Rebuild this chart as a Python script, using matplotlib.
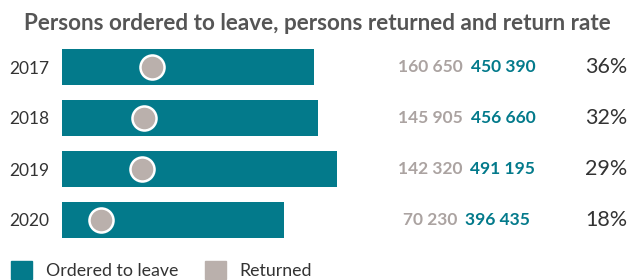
import matplotlib
matplotlib.use("Agg")
import matplotlib.pyplot as plt
from matplotlib.patches import Patch
from matplotlib.offsetbox import TextArea, HPacker, AnnotationBbox

plt.rcParams['font.family'] = ['Lato', 'DejaVu Sans']

years = ['2017', '2018', '2019', '2020']
ordered = [450390, 456660, 491195, 396435]
returned = [160650, 145905, 142320, 70230]
rates = ['36%', '32%', '29%', '18%']

TEAL = '#037a8b'
GREY = '#bab0ac'
GREY_TXT = '#aba3a1'
DARK = '#333333'

W, H = 641, 280
fig = plt.figure(figsize=(W / 100, H / 100), dpi=100)
ax = fig.add_axes([62 / W, 34.5 / H, 579 / W, 204 / H])

# px per unit ~ 5.6e-4 so that axis spans 579 px
ax.set_xlim(0, 579 / 5.6e-4)
ax.set_ylim(3.5, -0.5)
pos = list(range(len(years)))

ax.barh(pos, ordered, height=0.71, color=TEAL, zorder=2)
ax.scatter(returned, pos, s=300, color=GREY, edgecolor='white', linewidth=1.8, zorder=3)

ax.set_yticks(pos)
ax.set_yticklabels(years, fontsize=12.5, color=DARK)
ax.tick_params(axis='y', length=0, pad=9)
ax.set_xticks([])
for s in ax.spines.values():
    s.set_visible(False)


def fx(px):
    # figure pixel -> axes fraction
    return (px - 62) / 579


tr = ax.get_yaxis_transform()
for i in pos:
    g = TextArea(f"{returned[i]:,}".replace(',', ' '),
                 textprops=dict(color=GREY_TXT, fontsize=12.5, fontweight='bold'))
    t = TextArea(f"{ordered[i]:,}".replace(',', ' '),
                 textprops=dict(color=TEAL, fontsize=12.5, fontweight='bold'))
    box = HPacker(children=[g, t], sep=6, pad=0, align='center')
    ab = AnnotationBbox(box, (fx(466.5), i), xycoords=tr, frameon=False,
                        box_alignment=(0.5, 0.5), pad=0)
    ax.add_artist(ab)
    ax.text(fx(627), i, rates[i], transform=tr, ha='right', va='center',
            fontsize=15.5, color=DARK, clip_on=False)

fig.text(317 / W, 1 - 23 / H, 'Persons ordered to leave, persons returned and return rate',
         ha='center', va='center', fontsize=16.2, fontweight='bold', color='#555555')

handles = [Patch(color=TEAL, label='Ordered to leave'), Patch(color=GREY, label='Returned')]
fig.legend(handles=handles, loc='lower left', bbox_to_anchor=(2 / W, -8 / H), ncol=2,
           frameon=False, fontsize=12.8, handlelength=1.2, handleheight=1.2,
           handletextpad=0.75, columnspacing=1.5, labelcolor=DARK, borderpad=0)

fig.savefig('out.png', dpi=100)
